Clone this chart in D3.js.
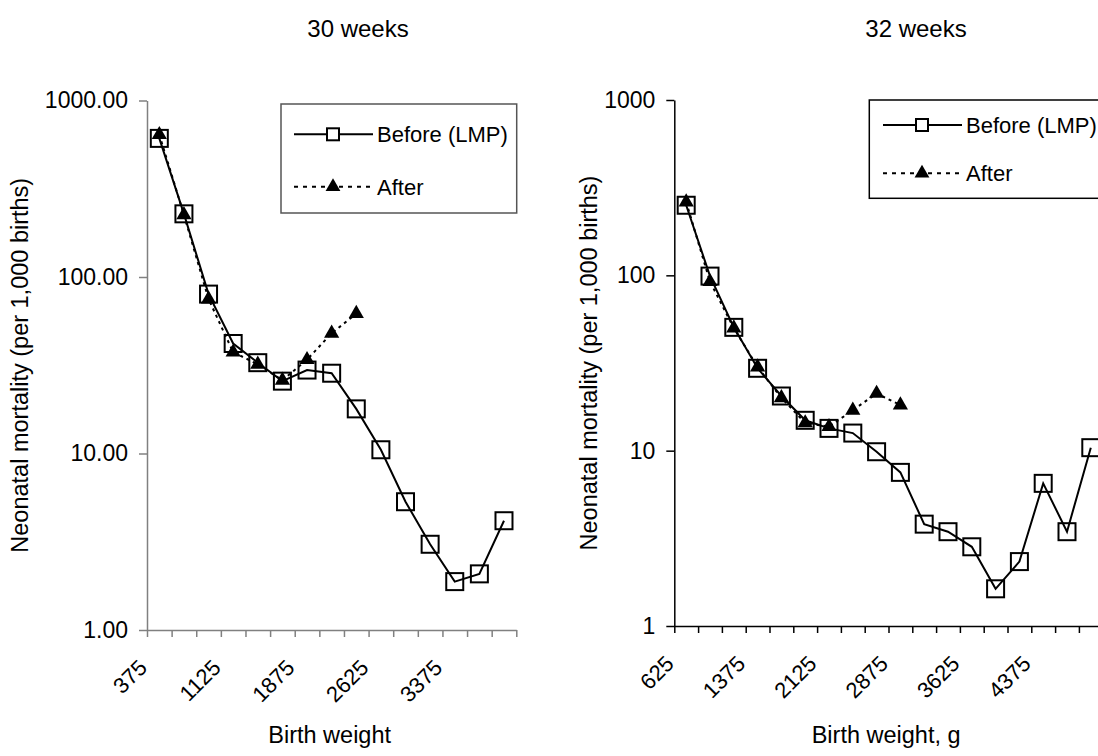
<!DOCTYPE html>
<html>
<head>
<meta charset="utf-8">
<script src="https://cdn.jsdelivr.net/npm/d3@7/dist/d3.min.js"></script>
<style>
  body { margin: 0; background: #fff; }
  svg { display: block; font-family: Arial, "Liberation Sans", sans-serif; }
</style>
</head>
<body>
<svg id="chart" width="1098" height="756"></svg>
<script>
(function(){
  'use strict';

  // 30 weeks panel
  var leftCats = [375, 625, 875, 1125, 1375, 1625, 1875, 2125, 2375, 2625, 2875, 3125, 3375, 3625, 3875];
  var leftLabels = [375, 1125, 1875, 2625, 3375];
  var leftBefore = [610, 228, 80, 42, 32.7, 25.7, 29.7, 28.5, 17.9, 10.5, 5.33, 3.06, 1.88, 2.08, 4.16];
  var leftAfter = [640, 225, 75, 37.5, 32, 26, 34, 48, 62];

  // 32 weeks panel
  var rightCats = [625, 875, 1125, 1375, 1625, 1875, 2125, 2375, 2625, 2875, 3125, 3375, 3625, 3875, 4125, 4375, 4625, 4875];
  var rightLabels = [625, 1375, 2125, 2875, 3625, 4375];
  var rightBefore = [251, 99, 50.5, 29.5, 20.5, 14.9, 13.4, 12.6, 9.86, 7.52, 3.81, 3.45, 2.83, 1.63, 2.33, 6.51, 3.45, 10.4];
  var rightAfter = [262, 92, 50, 30, 20, 14.4, 13.7, 17, 21.2, 18.2];

  var yTicks = [1, 10, 100, 1000];
  var seriesNames = ["Before (LMP)", "After"];

  var svg = d3.select("#chart");

  function panel(o) {
    var g = svg.append("g");
    var x = d3.scaleBand().domain(o.cats).range([o.x0, o.x1]).padding(0);
    var xi = d3.scaleLinear().domain([0, o.cats.length]).range([o.x0, o.x1]);
    var y = d3.scaleLog().domain([1, 1000]).range([o.y1, o.y0]);
    var cx = function(c){ return x(c) + x.bandwidth() / 2; };

    // title
    g.append("text")
      .attr("x", o.titleX).attr("y", 37)
      .attr("text-anchor", "middle")
      .style("font-size", "24px")
      .text(o.title);

    // y axis
    var ya = g.append("g")
      .attr("transform", "translate(" + o.x0 + ",0)")
      .call(d3.axisLeft(y).tickValues(yTicks).tickFormat(o.yFmt)
        .tickSize(8).tickSizeOuter(0).tickPadding(11));
    ya.selectAll("path,line").attr("stroke", o.axisColor).attr("stroke-width", 1.5);
    ya.selectAll("text")
      .style("font-size", "23px").style("fill", "#000");
    ya.attr("font-family", null).attr("font-size", null);

    // x axis, ticks on category boundaries
    var xa = g.append("g")
      .attr("transform", "translate(0," + o.y1 + ")")
      .call(d3.axisBottom(xi).tickValues(d3.range(o.cats.length + 1))
        .tickFormat("").tickSize(7).tickSizeOuter(0));
    xa.selectAll("path,line").attr("stroke", o.axisColor).attr("stroke-width", 1.5);

    g.selectAll(".xlab")
      .data(o.labels)
      .enter().append("text")
      .attr("class", "xlab")
      .attr("text-anchor", "end")
      .style("font-size", "22px")
      .attr("transform", function(d){
        return "translate(" + (cx(d) - 11) + "," + (o.y1 + 39) + ") rotate(-45)";
      })
      .text(function(d){ return d; });

    // axis titles
    g.append("text")
      .attr("x", (o.x0 + Math.min(o.x1, 1098)) / 2 + o.xTitleShift).attr("y", 743)
      .attr("text-anchor", "middle")
      .style("font-size", "23.5px")
      .text(o.xTitle);

    g.append("text")
      .attr("transform", "translate(" + o.yTitleX + "," + ((o.y0 + o.y1) / 2) + ") rotate(-90)")
      .attr("text-anchor", "middle")
      .style("font-size", "23.5px")
      .text("Neonatal mortality (per 1,000 births)");

    // series
    var before = o.before.map(function(v, i){ return {c: o.cats[i], v: v}; });
    var after = o.after.map(function(v, i){ return {c: o.cats[i], v: v}; });
    var line = d3.line().x(function(d){ return cx(d.c); }).y(function(d){ return y(d.v); });

    g.append("path").datum(after)
      .attr("d", line).attr("fill", "none")
      .attr("stroke", "#000").attr("stroke-width", 2)
      .attr("stroke-dasharray", "3,4");

    g.append("path").datum(before)
      .attr("d", line).attr("fill", "none")
      .attr("stroke", "#000").attr("stroke-width", 2);

    g.selectAll(".sq")
      .data(before)
      .enter().append("rect")
      .attr("class", "sq")
      .attr("x", function(d){ return cx(d.c) - 8.5; })
      .attr("y", function(d){ return y(d.v) - 8.5; })
      .attr("width", 17).attr("height", 17)
      .attr("fill", "none").attr("stroke", "#000").attr("stroke-width", 2);

    var tri = d3.symbol().type(d3.symbolTriangle).size(100);
    g.selectAll(".tri")
      .data(after)
      .enter().append("path")
      .attr("class", "tri")
      .attr("d", tri)
      .attr("transform", function(d){ return "translate(" + cx(d.c) + "," + y(d.v) + ")"; })
      .attr("fill", "#000");

    // legend
    var L = o.legend;
    var lg = g.append("g");
    lg.append("rect")
      .attr("x", L.x).attr("y", L.y).attr("width", L.w).attr("height", L.h)
      .attr("fill", "#fff").attr("stroke", o.legendStroke).attr("stroke-width", 1.5);

    var rows = lg.selectAll(".row")
      .data(seriesNames)
      .enter().append("g")
      .attr("class", "row")
      .attr("transform", function(d, i){ return "translate(" + L.lineX + "," + L.rowY[i] + ")"; });

    rows.append("line")
      .attr("x1", 0).attr("x2", 79)
      .attr("stroke", "#000").attr("stroke-width", 2)
      .attr("stroke-dasharray", function(d, i){ return i ? "4,5" : null; });

    rows.filter(function(d, i){ return i === 0; })
      .append("rect")
      .attr("x", 33).attr("y", -6).attr("width", 12).attr("height", 12)
      .attr("fill", "#fff").attr("stroke", "#000").attr("stroke-width", 2);

    rows.filter(function(d, i){ return i === 1; })
      .append("path")
      .attr("d", d3.symbol().type(d3.symbolTriangle).size(95))
      .attr("transform", "translate(39,0)")
      .attr("fill", "#000");

    rows.append("text")
      .attr("x", 83).attr("dy", "0.36em")
      .style("font-size", "22px")
      .text(function(d){ return d; });
  }

  panel({
    cats: leftCats, labels: leftLabels, before: leftBefore, after: leftAfter,
    x0: 147, x1: 516.3, y0: 100.5, y1: 630,
    title: "30 weeks", titleX: 358, xTitle: "Birth weight", xTitleShift: -2, yTitleX: 28,
    yFmt: d3.format(".2f"), axisColor: "#808080", legendStroke: "#555",
    legend: {x: 281, y: 104, w: 235.7, h: 109, lineX: 294, rowY: [134.3, 186.7]}
  });

  panel({
    cats: rightCats, labels: rightLabels, before: rightBefore, after: rightAfter,
    x0: 674.3, x1: 1102.7, y0: 100, y1: 626,
    title: "32 weeks", titleX: 916, xTitle: "Birth weight, g", xTitleShift: 0, yTitleX: 597,
    yFmt: d3.format("d"), axisColor: "#000", legendStroke: "#000",
    legend: {x: 869.3, y: 100, w: 240, h: 98.3, lineX: 883, rowY: [125, 173.3]}
  });
})();
</script>
</body>
</html>
